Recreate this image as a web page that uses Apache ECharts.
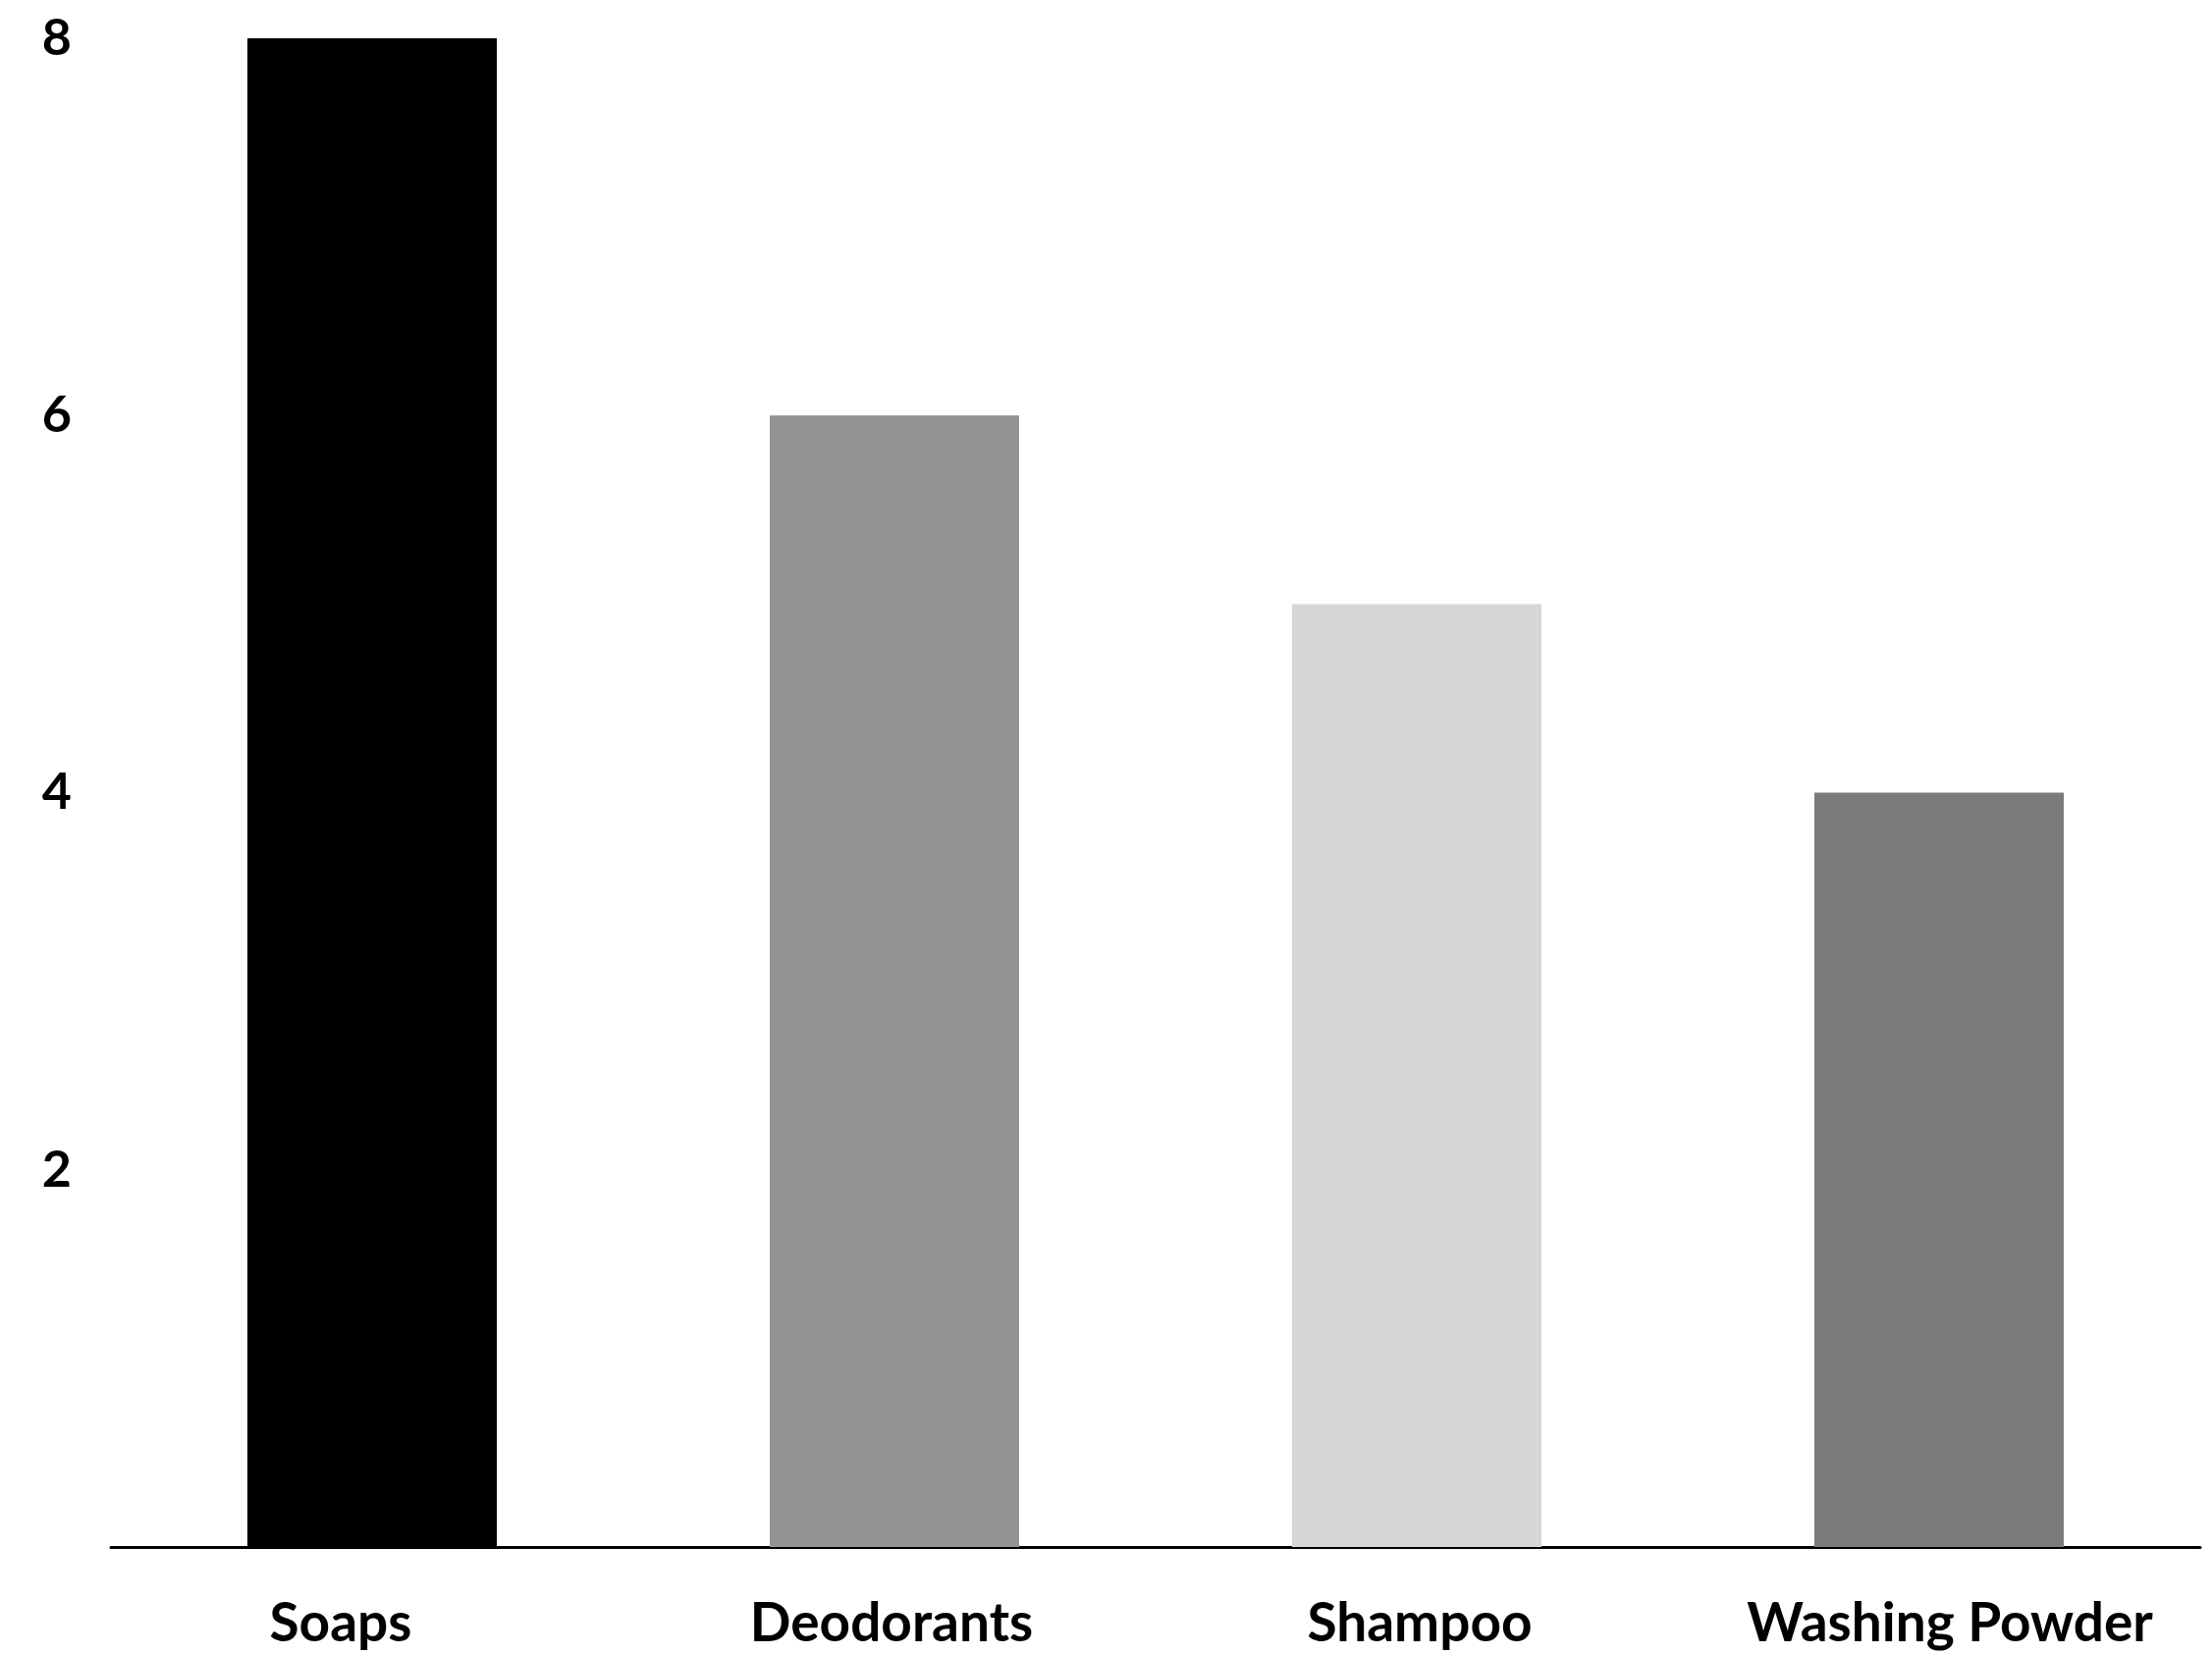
<!DOCTYPE html>
<html>
<head>
<meta charset="utf-8">
<script src="https://cdn.jsdelivr.net/npm/echarts@6/dist/echarts.min.js"></script>
<style>
html,body{margin:0;padding:0;background:#fff;}
#chart{width:2253px;height:1685px;}
</style>
</head>
<body>
<div id="chart"></div>
<script>
const categories = ['Soaps', 'Deodorants', 'Shampoo', 'Washing Powder'];
const values = [8, 6, 5, 4];
const barColors = ['#000000', '#939393', '#d6d6d6', '#7b7b7b'];
const yTicks = [0, 2, 4, 6, 8];
// horizontal shift of each category label relative to its bar centre (px)
const labelShift = [-32, -3, 3, 11];

function shiftPadding(d) {
  return d < 0 ? [0, -2 * d, 0, 0] : [0, 0, 0, 2 * d];
}

const chart = echarts.init(document.getElementById('chart'), null, {renderer: 'canvas'});
chart.setOption({
  backgroundColor: '#ffffff',
  animation: false,
  grid: {left: 113, right: 12, top: 39, bottom: 109, containLabel: false},
  xAxis: {
    type: 'category',
    data: categories.map((c, i) => ({value: c, textStyle: {padding: shiftPadding(labelShift[i])}})),
    axisLine: {show: true, lineStyle: {color: '#000', width: 3}},
    axisTick: {show: false},
    axisLabel: {
      interval: 0,
      hideOverlap: false,
      color: '#000',
      fontFamily: 'Lato',
      fontWeight: 'bold',
      fontSize: 55,
      margin: 51
    }
  },
  yAxis: {
    type: 'value',
    min: yTicks[0],
    max: yTicks[yTicks.length - 1],
    interval: 2,
    axisLine: {show: false},
    axisTick: {show: false},
    splitLine: {show: false},
    axisLabel: {
      color: '#000',
      fontFamily: 'Lato',
      fontWeight: 'bold',
      fontSize: 52,
      margin: 40,
      formatter: v => v === 0 ? '' : String(v)
    }
  },
  series: [{
    type: 'bar',
    barWidth: 254,
    data: values.map((v, i) => ({value: v, itemStyle: {color: barColors[i]}}))
  }]
});
</script>
</body>
</html>
